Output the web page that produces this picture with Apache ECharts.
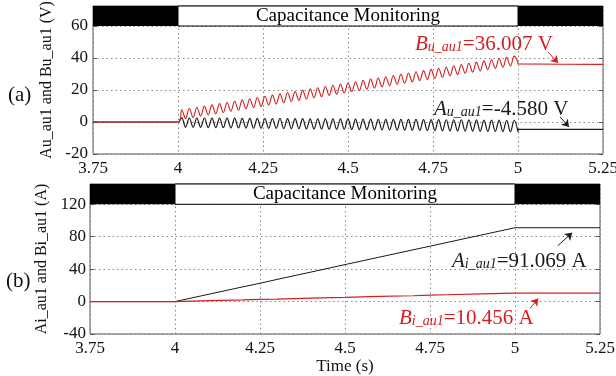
<!DOCTYPE html>
<html><head><meta charset="utf-8">
<script src="https://cdn.jsdelivr.net/npm/echarts@6/dist/echarts.min.js"></script>
<style>html,body{margin:0;padding:0;background:#fff}#c{width:616px;height:376px}</style>
</head><body><div id="c"></div>
<script>
// ---- data ----
const xTicks = [3.75, 4, 4.25, 4.5, 4.75, 5, 5.25];
const oscStart = 4;           // s, start of monitoring oscillation
const oscHalfStep = 1 / 90;   // s between successive peak/trough samples
// Bu_au1 (V): peaks and troughs, 4.0 s -> 5.0 s
const bU = [7.7,2.1,8.4,2.8,9.2,3.6,9.9,4.4,10.7,5.1,11.5,5.9,12.2,6.7,13.0,7.4,13.8,8.2,14.5,9.0,
  15.3,9.7,16.1,10.5,16.8,11.2,17.6,12.0,18.4,12.8,19.1,13.5,19.9,14.3,20.7,15.1,21.4,15.8,22.2,16.6,
  23.0,17.3,23.7,18.1,24.5,18.9,25.2,19.6,26.0,20.4,26.8,21.2,27.5,21.9,28.3,22.7,29.1,23.5,29.8,24.2,
  30.6,25.0,31.4,25.8,32.1,26.5,32.9,27.3,33.6,28.0,34.4,28.8,35.2,29.6,35.9,30.4,36.7,31.1,37.4,31.9,
  38.2,32.7,38.9,33.5,39.7,34.2,40.4,35.0,41.2,36.3];
// Au_au1 (V)
const aU = [2.6,-3.3,2.5,-3.3,2.5,-3.4,2.5,-3.5,2.4,-3.5,2.4,-3.6,2.4,-3.7,2.4,-3.7,2.3,-3.8,2.3,-3.9,
  2.3,-3.9,2.2,-4.0,2.2,-4.0,2.2,-4.1,2.1,-4.2,2.1,-4.2,2.1,-4.3,2.0,-4.4,2.0,-4.4,2.0,-4.5,
  1.9,-4.6,1.9,-4.6,1.9,-4.7,1.8,-4.8,1.8,-4.8,1.8,-4.9,1.7,-5.0,1.7,-5.0,1.7,-5.1,1.6,-5.1,
  1.6,-5.2,1.6,-5.3,1.5,-5.3,1.5,-5.4,1.5,-5.5,1.4,-5.5,1.4,-5.6,1.4,-5.7,1.3,-5.7,1.3,-5.8,
  1.2,-5.9,1.2,-5.9,1.2,-6.0,1.1,-6.1,1.1,-6.1];
const bUFinal = 36.007, aUFinal = -4.580;
// currents (A)
const iTimes = [3.75, 4, 4.1, 4.2, 4.25, 4.3, 4.4, 4.5, 4.6, 4.7, 4.75, 4.8, 4.9, 5, 5.25];
const aI = [0, 0, 9.1, 18.2, 22.6, 27.3, 36.4, 45.6, 54.7, 63.8, 68.3, 72.9, 82.0, 91.069, 91.069];
const bI = [0, 0, 1.1, 2.0, 2.6, 3.1, 4.2, 5.2, 6.3, 7.2, 7.9, 8.4, 9.4, 10.456, 10.456];
const bandX = [3.75, 4, 5, 5.25];
const bandLabel = 'Capacitance Monitoring';

// ---- build ----
function osc(vals, pre, fin) {
  const d = [[3.75, pre], [oscStart, pre]];
  vals.forEach((v, k) => d.push([oscStart + (k + 1) * oscHalfStep, v]));
  d.push([5, fin], [5.25, fin]);
  return d;
}
const RED = '#d41f1f', BLK = '#1a1a1a';
const serif = 'Liberation Serif';
function band(yTop, yBot) {
  return {
    silent: true,
    data: [
      [{xAxis: bandX[0], yAxis: yBot, itemStyle: {color: '#000'}}, {xAxis: bandX[1], yAxis: yTop}],
      [{xAxis: bandX[1], yAxis: yBot, itemStyle: {color: '#fff', borderColor: '#000', borderWidth: 1},
        label: {show: true, position: 'inside', formatter: bandLabel, color: '#000', fontSize: 19, fontFamily: serif}},
       {xAxis: bandX[2], yAxis: yTop}],
      [{xAxis: bandX[2], yAxis: yBot, itemStyle: {color: '#000'}}, {xAxis: bandX[3], yAxis: yTop}]
    ],
    label: {show: false}
  };
}
function arrow(x1, y1, x2, y2, color) {
  return [{coord: [x1, y1], lineStyle: {color, width: 1, type: 'solid'}, itemStyle: {color}}, {coord: [x2, y2]}];
}
const axisLabelStyle = {color: '#111', fontSize: 17, fontFamily: serif};
const split = {show: true, lineStyle: {color: '#888', type: [1.5, 3], width: 1}};
const nameStyle = {color: '#111', fontSize: 16, fontFamily: serif};

const chart = echarts.init(document.getElementById('c'), null, {renderer: 'canvas'});
const option = {
  animation: false,
  grid: [
    {left: 93, right: 13, top: 6, height: 148, show: true, borderColor: '#555', borderWidth: 1,
      containLabel: false, outerBoundsMode: 'none'},
    {left: 90, right: 16, top: 184, height: 150, show: true, borderColor: '#555', borderWidth: 1,
      containLabel: false, outerBoundsMode: 'none'}
  ],
  xAxis: [0, 1].map(i => ({
    type: 'value', gridIndex: i, min: 3.75, max: 5.25, interval: 0.25,
    axisLine: {show: false}, axisTick: {show: false},
    axisLabel: Object.assign({margin: 6}, axisLabelStyle),
    splitLine: split,
    name: i === 1 ? 'Time (s)' : '', nameLocation: 'middle', nameGap: 24,
    nameTextStyle: {color: '#111', fontSize: 17, fontFamily: serif}
  })),
  yAxis: [
    {type: 'value', gridIndex: 0, min: -20, max: 72.5, interval: 20,
      axisLine: {show: false}, axisTick: {show: true, inside: true, length: 4, lineStyle: {color: '#555'}},
      axisLabel: Object.assign({margin: 5, showMaxLabel: false}, axisLabelStyle), splitLine: split,
      name: 'Au_au1 and Bu_au1 (V)', nameLocation: 'middle', nameGap: 34, nameRotate: 90,
      nameTextStyle: nameStyle},
    {type: 'value', gridIndex: 1, min: -40, max: 145, interval: 40,
      axisLine: {show: false}, axisTick: {show: true, inside: true, length: 4, lineStyle: {color: '#555'}},
      axisLabel: Object.assign({margin: 4, showMaxLabel: false}, axisLabelStyle), splitLine: split,
      name: 'Ai_au1 and Bi_au1 (A)', nameLocation: 'middle', nameGap: 37, nameRotate: 90,
      nameTextStyle: nameStyle},
    {type: 'value', gridIndex: 0, position: 'right', min: -20, max: 72.5, interval: 20,
      axisLine: {show: false}, axisTick: {show: true, inside: true, length: 4, lineStyle: {color: '#555'}},
      axisLabel: {show: false}, splitLine: {show: false}},
    {type: 'value', gridIndex: 1, position: 'right', min: -40, max: 145, interval: 40,
      axisLine: {show: false}, axisTick: {show: true, inside: true, length: 4, lineStyle: {color: '#555'}},
      axisLabel: {show: false}, splitLine: {show: false}}
  ],
  series: [
    {type: 'line', xAxisIndex: 0, yAxisIndex: 0, data: osc(aU, 0, aUFinal), showSymbol: false,
      smooth: 0.35, lineStyle: {color: BLK, width: 1.2}, z: 3,
      markLine: {silent: true, symbol: ['none', 'arrow'], symbolSize: 7, label: {show: false},
        data: [arrow(5.124, 3.1, 5.15, -3.1, BLK)]}},
    {type: 'line', xAxisIndex: 0, yAxisIndex: 0, data: osc(bU, 0, bUFinal), showSymbol: false,
      smooth: 0.35, lineStyle: {color: RED, width: 1.1}, z: 4,
      markArea: band(72.5, 60),
      markLine: {silent: true, symbol: ['none', 'arrow'], symbolSize: 7, label: {show: false},
        data: [arrow(5.088, 43.75, 5.118, 36.9, RED)]}},
    {type: 'line', xAxisIndex: 1, yAxisIndex: 1, data: iTimes.map((t, i) => [t, aI[i]]), showSymbol: false,
      lineStyle: {color: BLK, width: 1}, z: 3,
      markArea: band(145, 120),
      markLine: {silent: true, symbol: ['none', 'arrow'], symbolSize: 7, label: {show: false},
        data: [arrow(5.126, 68.9, 5.168, 84.9, BLK)]}},
    {type: 'line', xAxisIndex: 1, yAxisIndex: 1, data: iTimes.map((t, i) => [t, bI[i]]), showSymbol: false,
      lineStyle: {color: RED, width: 1.2}, z: 4,
      markLine: {silent: true, symbol: ['none', 'arrow'], symbolSize: 7, label: {show: false},
        data: [arrow(5.044, -8.6, 5.068, 3.7, RED)]}}
  ],
  graphic: (function () {
    function rich(color) {
      return {
        m: {fontSize: 21, fontFamily: serif, fontStyle: 'italic', color, verticalAlign: 'bottom', lineHeight: 23},
        s: {fontSize: 14, fontFamily: serif, fontStyle: 'italic', color, verticalAlign: 'bottom', lineHeight: 8},
        n: {fontSize: 21, fontFamily: serif, color, verticalAlign: 'bottom', lineHeight: 23}
      };
    }
    function lab(x, y, letter, sub, val, color) {
      return {type: 'text', x, y, z: 100,
        style: {text: '{m|' + letter + '}{s|' + sub + '}{n|' + val + '}', rich: rich(color),
          verticalAlign: 'middle', align: 'left', fill: color}};
    }
    return [
      lab(415, 43, 'B', 'u_au1', '=36.007 V', RED),
      lab(434, 108, 'A', 'u_au1', '=-4.580 V', BLK),
      lab(452, 260, 'A', 'i_au1', '=91.069 A', BLK),
      lab(399, 317, 'B', 'i_au1', '=10.456 A', RED),
      {type: 'text', x: 8, y: 95, style: {text: '(a)', fill: '#111', font: '21px "Liberation Serif"', verticalAlign: 'middle'}},
      {type: 'text', x: 6, y: 281, style: {text: '(b)', fill: '#111', font: '21px "Liberation Serif"', verticalAlign: 'middle'}}
    ];
  })()
};
chart.setOption(option);
</script></body></html>
